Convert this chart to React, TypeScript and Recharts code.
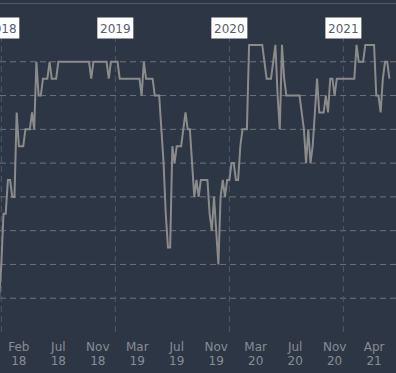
import { CartesianGrid, Line, LineChart, ReferenceLine, XAxis, YAxis } from "recharts";

// weekly score, first week = Dec 25 2017
const scores = [
  1, 2, 3.5, 3.5, 4.5, 4.5, 4, 4, 6.5, 5.5,
  5.5, 5.5, 6, 6, 6, 6.5, 6, 8, 7, 7,
  7.5, 7.5, 7.5, 8, 7.5, 7.5, 7.5, 8, 8, 8,
  8, 8, 8, 8, 8, 8, 8, 8, 8, 8,
  8, 8, 7.5, 8, 8, 8, 8, 8, 8, 8,
  7.5, 8, 8, 8, 8, 7.5, 7.5, 7.5, 7.5, 7.5,
  7.5, 7.5, 7.5, 7.5, 7.5, 7, 8, 7.5, 7.5, 7.5,
  7.5, 7, 7, 7, 6, 5, 3.5, 2.5, 2.5, 5.5,
  5, 5.5, 5.5, 5.5, 6, 6.5, 6, 6, 5, 4,
  4.5, 4, 4.5, 4.5, 4.5, 4.5, 3.5, 3, 4, 3,
  2, 4, 4.5, 4, 4.5, 4.5, 5, 5, 4.5, 4.5,
  5.5, 6, 6, 6, 8.5, 8.5, 8.5, 8.5, 8.5, 8.5,
  8.5, 8, 7.5, 7.5, 7.5, 8, 8.5, 7, 6, 8.5,
  7.5, 7, 7, 7, 7, 7, 7, 7, 6.5, 6,
  5, 6, 5, 5.5, 6.5, 7.5, 6.5, 6.5, 6.5, 7,
  6.5, 7.5, 7.5, 7, 7.5, 7.5, 7.5, 7.5, 7.5, 7.5,
  7.5, 7.5, 7.5, 8.5, 8, 8, 8, 8.5, 8.5, 8.5,
  8.5, 8.5, 7, 7, 6.5, 7.5, 8, 8, 7.5,
];

const tickWeeks = [9, 27, 45, 63, 81, 99, 117, 135, 153, 171];
const tickMonths = ["Feb", "Jul", "Nov", "Mar", "Jul", "Nov", "Mar", "Jul", "Nov", "Apr"];
const tickYears = ["18", "18", "18", "19", "19", "19", "20", "20", "20", "21"];

const yearWeeks = [1, 53, 105, 157];
const yearLabels = ["2018", "2019", "2020", "2021"];

const Y_MAX = 9;
const gridLevels = [1, 2, 3, 4, 5, 6, 7, 8];

const rows = scores.map((v, i) => ({ week: i, score: v }));

function MonthTick({ x, y, payload }: any) {
  const k = tickWeeks.indexOf(payload.value);
  return (
    <g transform={`translate(${x},${y})`}>
      <text textAnchor="middle" fill="#868d97" fontSize={12} fontFamily="DejaVu Sans">
        <tspan x={0} dy={18.5}>{tickMonths[k]}</tspan>
        <tspan x={0} dy={14.5}>{tickYears[k]}</tspan>
      </text>
    </g>
  );
}

function YearLabel({ viewBox, value }: any) {
  const { x, y } = viewBox;
  return (
    <g>
      <rect x={x - 18} y={y - 10.5} width={36} height={21} fill="#ffffff" />
      <text
        x={x}
        y={y + 4.5}
        textAnchor="middle"
        fill="#56606d"
        fontSize={12}
        fontFamily="DejaVu Sans"
      >
        {value}
      </text>
    </g>
  );
}

// grid only at the inner levels, not at the domain edges
function gridRows({ offset }: any) {
  return gridLevels.map((v) => offset.top + offset.height * (1 - v / Y_MAX));
}

export default function App() {
  return (
    <div style={{ position: "absolute", left: 0, top: 0, width: 396, height: 373, background: "#2d3644" }}>
      <div style={{ position: "absolute", left: 0, top: 3, width: 396, height: 1, background: "#4e5969" }} />
      <LineChart width={396} height={373} data={rows} margin={{ top: 28, right: 0, bottom: 0, left: 0 }}>
        <CartesianGrid
          vertical={false}
          stroke="#6f737a"
          strokeDasharray="6 4"
          horizontalCoordinatesGenerator={gridRows}
        />
        <XAxis
          dataKey="week"
          type="number"
          domain={[0.4, 181]}
          allowDataOverflow
          ticks={tickWeeks}
          interval={0}
          tick={<MonthTick />}
          tickLine={false}
          tickSize={0}
          tickMargin={0}
          axisLine={false}
          height={41}
        />
        <YAxis hide domain={[0, Y_MAX]} ticks={gridLevels} />
        {yearWeeks.map((w, k) => (
          <ReferenceLine
            key={w}
            x={w}
            stroke="#4f5a68"
            strokeDasharray="6 4"
            label={<YearLabel value={yearLabels[k]} />}
          />
        ))}
        <Line
          type="linear"
          dataKey="score"
          stroke="#8b8b8b"
          strokeWidth={2}
          dot={false}
          isAnimationActive={false}
        />
      </LineChart>
    </div>
  );
}
